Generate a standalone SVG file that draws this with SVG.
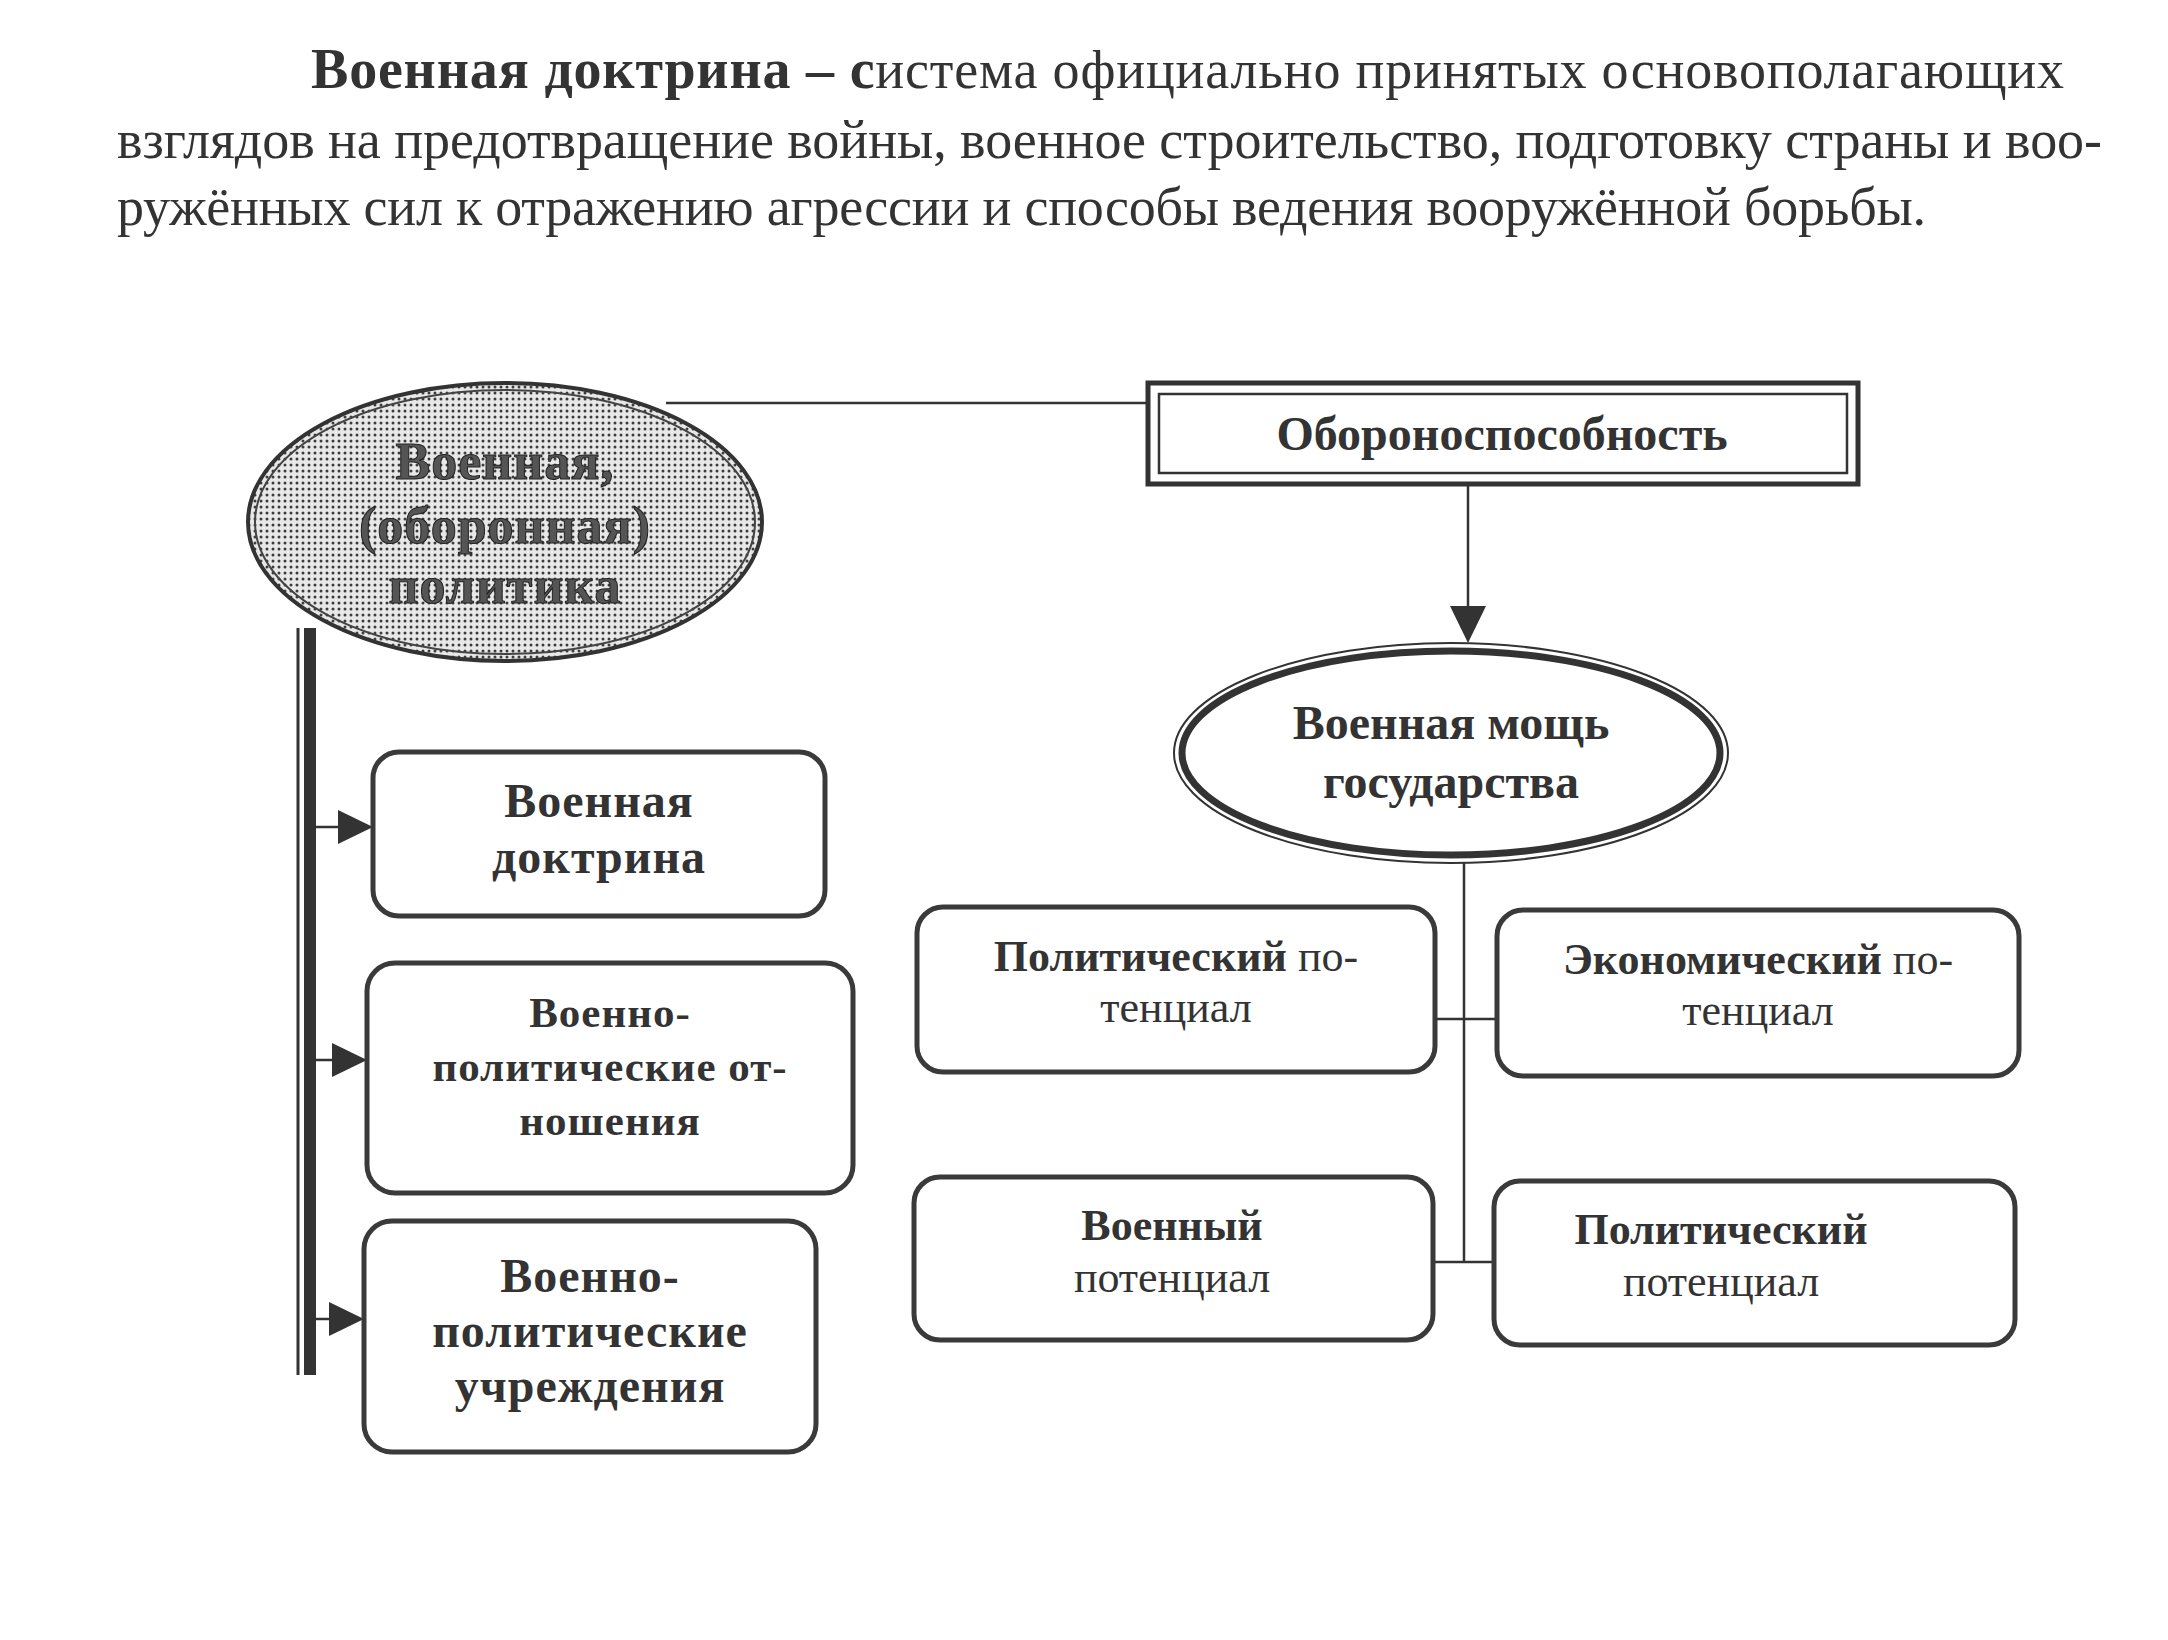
<svg xmlns="http://www.w3.org/2000/svg" width="2168" height="1640" viewBox="0 0 2168 1640">
<defs>
<pattern id="dots" width="6" height="6" patternUnits="userSpaceOnUse">
<rect width="6" height="6" fill="#e8e8e8"/>
<circle cx="3" cy="3" r="1.5" fill="#3c3c3c"/>
</pattern>
<style>
text{font-family:"Liberation Serif","Times New Roman",serif;fill:#333;text-anchor:middle}
.title{text-anchor:start;font-size:54px}
.tb{font-weight:bold}
.box{fill:#fff;stroke:#3a3a3a;stroke-width:5}
.lb{font-size:48px;font-weight:bold;letter-spacing:1px}
.lb2{font-size:43px;font-weight:bold;letter-spacing:1px}
.rb{font-size:44px}
.line{stroke:#333;stroke-width:2.5;fill:none}
.head{fill:#333}
.el{fill:#555;stroke:#222;stroke-width:1}
</style>
</defs>
<rect width="2168" height="1640" fill="#fff"/>

<g id="title">
<text class="title" x="311" y="88" textLength="1753" lengthAdjust="spacing"><tspan class="tb" font-size="56">Военная доктрина – с</tspan>истема официально принятых основополагающих</text>
<text class="title" x="117" y="158" textLength="1985" lengthAdjust="spacing">взглядов на предотвращение войны, военное строительство, подготовку страны и воо-</text>
<text class="title" x="117" y="225" textLength="1809" lengthAdjust="spacing">ружённых сил к отражению агрессии и способы ведения вооружённой борьбы.</text>
</g>

<g id="connectors">
<line class="line" x1="666" y1="403" x2="1146" y2="403"/>
<line class="line" x1="1468" y1="486" x2="1468" y2="610"/>
<polygon class="head" points="1450,606 1486,606 1468,643"/>
<line class="line" x1="1464" y1="863" x2="1464" y2="1263"/>
<line class="line" x1="1435" y1="1019" x2="1497" y2="1019"/>
<line class="line" x1="1433" y1="1262" x2="1494" y2="1262"/>
<line x1="298" y1="628" x2="298" y2="1375" stroke="#333" stroke-width="3"/>
<rect x="304" y="628" width="12" height="747" fill="#333"/>
<line class="line" x1="316" y1="827" x2="340" y2="827"/>
<polygon class="head" points="338,810 338,844 373,827"/>
<line class="line" x1="316" y1="1060" x2="334" y2="1060"/>
<polygon class="head" points="332,1043 332,1077 367,1060"/>
<line class="line" x1="316" y1="1319" x2="331" y2="1319"/>
<polygon class="head" points="329,1302 329,1336 364,1319"/>
</g>

<g id="node-policy">
<ellipse cx="505" cy="522" rx="257" ry="139" fill="url(#dots)" stroke="#333" stroke-width="4"/>
<ellipse cx="505" cy="522" rx="250" ry="132" fill="none" stroke="#444" stroke-width="2"/>
<g font-size="52" font-weight="bold" style="letter-spacing:1px">
<text class="el" x="505" y="479">Военная,</text>
<text class="el" x="505" y="543">(оборонная)</text>
<text class="el" x="505" y="603">политика</text>
</g>
</g>

<g id="node-defense">
<rect x="1148" y="383" width="710" height="101" fill="#fff" stroke="#333" stroke-width="5"/>
<rect x="1159" y="394" width="688" height="79" fill="none" stroke="#333" stroke-width="2.5"/>
<text x="1502" y="450" font-size="48" font-weight="bold">Обороноспособность</text>
</g>

<g id="node-power">
<ellipse cx="1451" cy="753" rx="277" ry="110" fill="#fff" stroke="#333" stroke-width="2"/>
<ellipse cx="1451" cy="753" rx="269" ry="102" fill="none" stroke="#333" stroke-width="7"/>
<text x="1451" y="739" font-size="48" font-weight="bold">Военная мощь</text>
<text x="1451" y="798" font-size="48" font-weight="bold">государства</text>
</g>

<g id="node-doctrine">
<rect class="box" x="373" y="752" width="452" height="164" rx="26"/>
<text class="lb" x="599" y="817">Военная</text>
<text class="lb" x="599" y="873">доктрина</text>
</g>

<g id="node-relations">
<rect class="box" x="367" y="963" width="486" height="230" rx="28"/>
<text class="lb2" x="610" y="1027">Военно-</text>
<text class="lb2" x="610" y="1081">политические от-</text>
<text class="lb2" x="610" y="1135">ношения</text>
</g>

<g id="node-institutions">
<rect class="box" x="364" y="1221" width="452" height="231" rx="28"/>
<text class="lb" x="590" y="1292">Военно-</text>
<text class="lb" x="590" y="1347">политические</text>
<text class="lb" x="590" y="1402">учреждения</text>
</g>

<g id="node-political1">
<rect class="box" x="917" y="907" width="518" height="165" rx="26"/>
<text class="rb" x="1176" y="971"><tspan font-weight="bold">Политический</tspan> по-</text>
<text class="rb" x="1176" y="1022">тенциал</text>
</g>

<g id="node-economic">
<rect class="box" x="1497" y="910" width="522" height="166" rx="26"/>
<text class="rb" x="1758" y="974"><tspan font-weight="bold">Экономический</tspan> по-</text>
<text class="rb" x="1758" y="1025">тенциал</text>
</g>

<g id="node-military">
<rect class="box" x="914" y="1177" width="519" height="163" rx="26"/>
<text class="rb" x="1172" y="1240" font-weight="bold">Военный</text>
<text class="rb" x="1172" y="1292">потенциал</text>
</g>

<g id="node-political2">
<rect class="box" x="1494" y="1181" width="521" height="164" rx="26"/>
<text class="rb" x="1721" y="1244" font-weight="bold">Политический</text>
<text class="rb" x="1721" y="1296">потенциал</text>
</g>
</svg>
